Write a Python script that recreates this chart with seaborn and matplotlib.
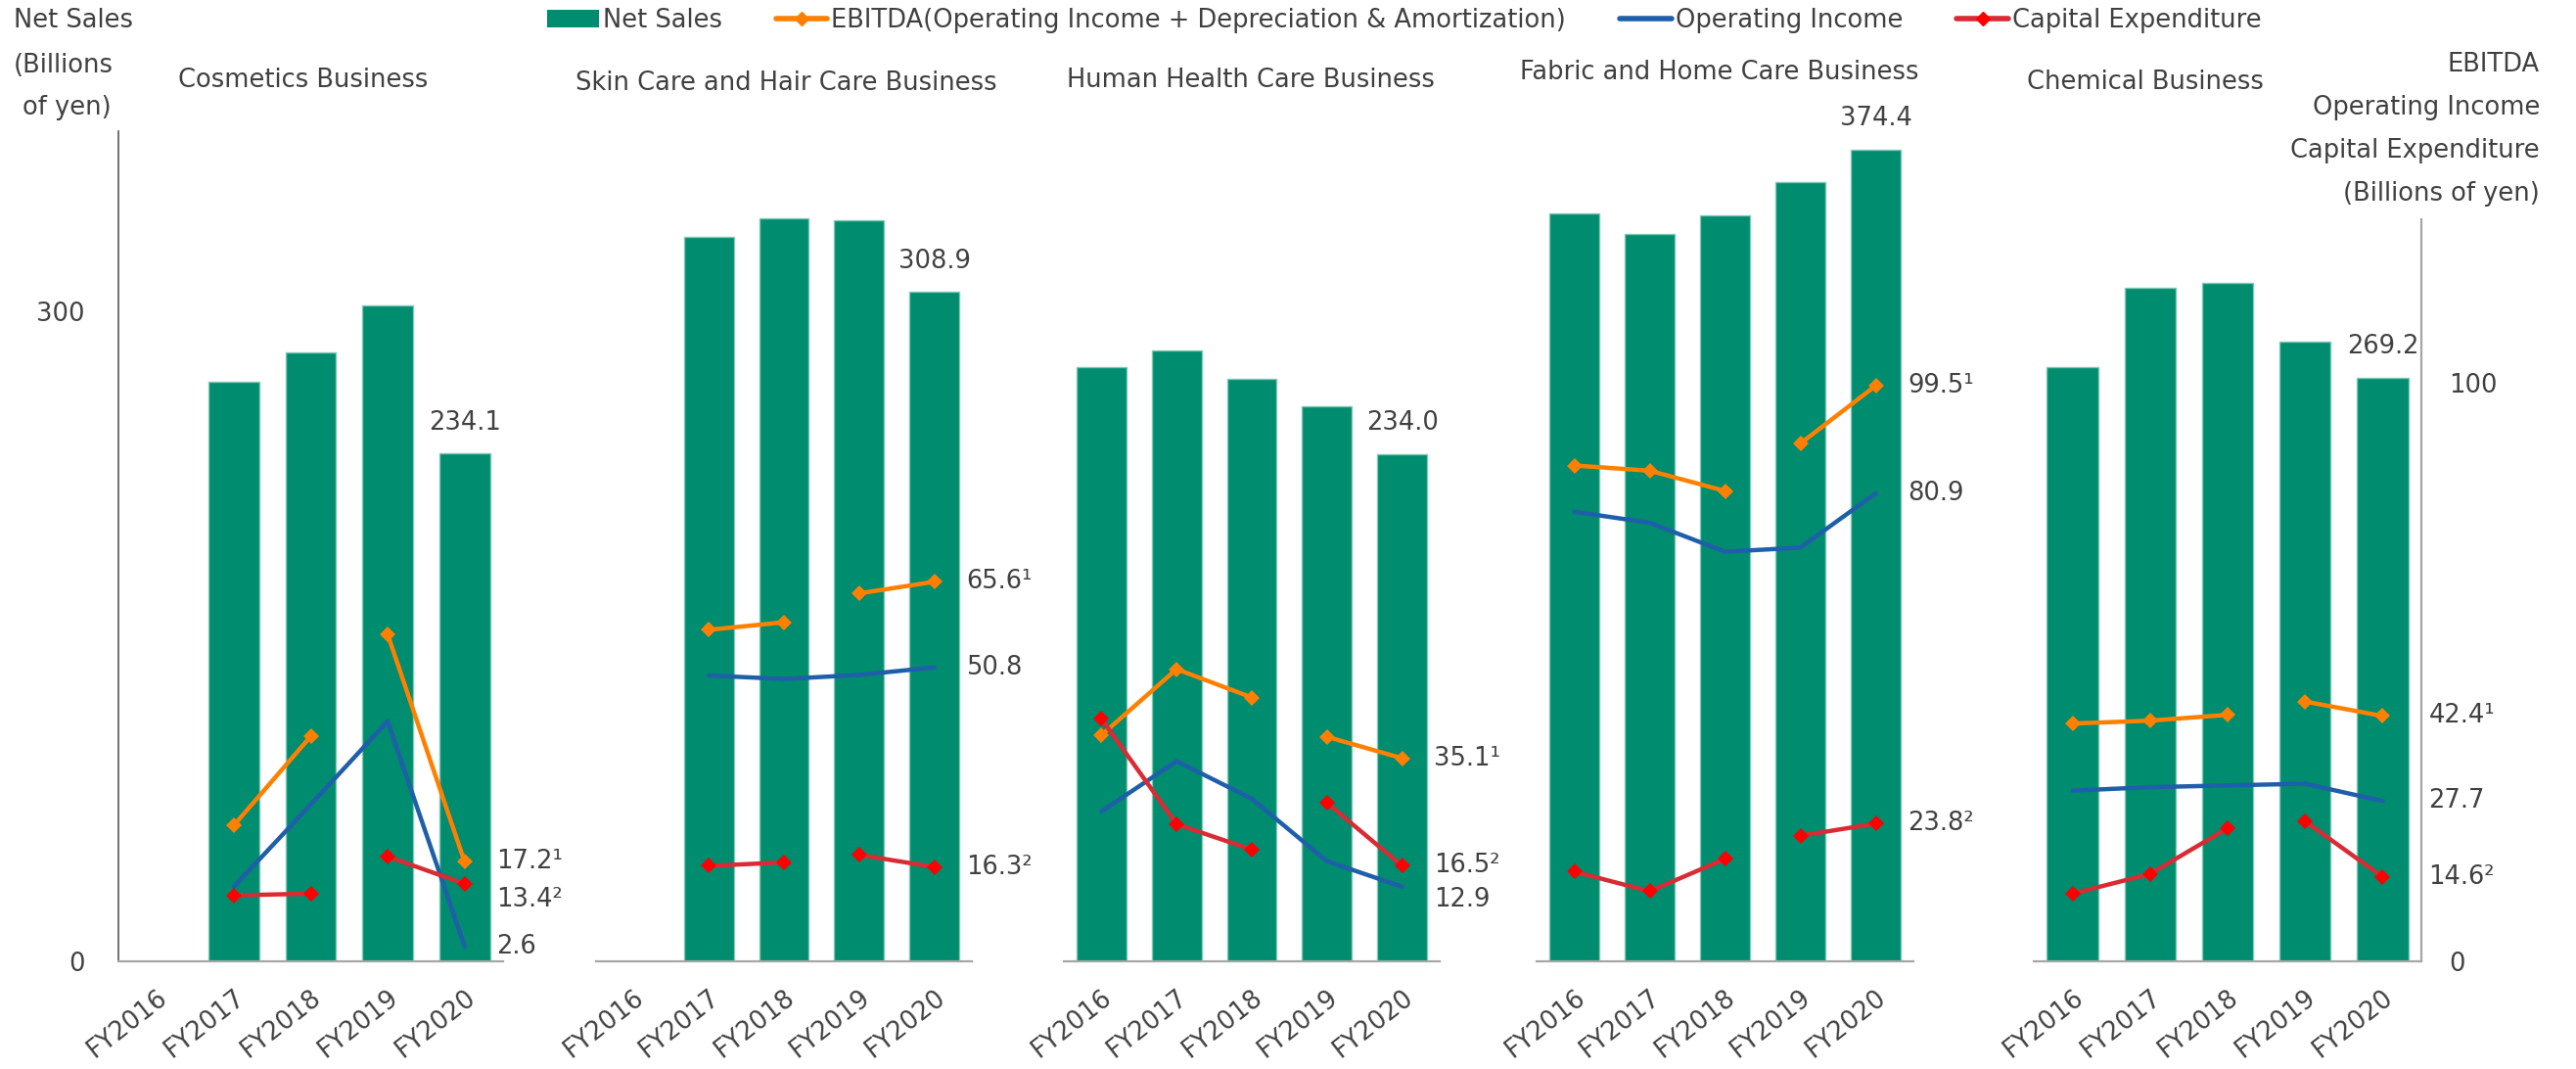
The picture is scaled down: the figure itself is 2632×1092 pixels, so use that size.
import numpy as np
import pandas as pd
import seaborn as sns
import matplotlib.pyplot as plt
from matplotlib.patches import Patch
from matplotlib.lines import Line2D

nan = np.nan
years = ["FY2016", "FY2017", "FY2018", "FY2019", "FY2020"]
segment_names = ["Cosmetics Business", "Skin Care and Hair Care Business",
                 "Human Health Care Business", "Fabric and Home Care Business",
                 "Chemical Business"]

# net sales, billions of yen (left axis)
cosmetics_sales = [nan, 267.3, 280.7, 302.6, 234.1]
skincare_sales = [nan, 333.9, 342.5, 341.8, 308.9]
health_sales = [273.9, 281.9, 268.4, 255.9, 234.0]
fabric_sales = [344.8, 335.4, 343.9, 359.4, 374.4]
chemical_sales = [273.9, 310.5, 312.9, 285.8, 269.2]

# EBITDA (right axis)
cosmetics_ebitda = [nan, 23.5, 38.9, 56.5, 17.2]
skincare_ebitda = [nan, 57.3, 58.6, 63.6, 65.6]
health_ebitda = [39.1, 50.5, 45.6, 38.8, 35.1]
fabric_ebitda = [85.7, 84.8, 81.3, 89.5, 99.5]
chemical_ebitda = [41.1, 41.6, 42.6, 44.9, 42.4]

# operating income (right axis)
cosmetics_op = [nan, 12.9, 27.1, 41.5, 2.6]
skincare_op = [nan, 49.4, 48.8, 49.5, 50.8]
health_op = [25.9, 34.6, 28.1, 17.3, 12.9]
fabric_op = [77.7, 75.8, 70.8, 71.5, 80.9]
chemical_op = [29.5, 30.1, 30.4, 30.7, 27.7]

# capital expenditure (right axis)
cosmetics_capex = [nan, 11.4, 11.7, 18.1, 13.4]
skincare_capex = [nan, 16.5, 17.1, 18.4, 16.3]
health_capex = [41.9, 23.7, 19.3, 27.4, 16.5]
fabric_capex = [15.5, 12.1, 17.7, 21.7, 23.8]
chemical_capex = [11.7, 15.1, 23.0, 24.2, 14.6]

sales = [cosmetics_sales, skincare_sales, health_sales, fabric_sales, chemical_sales]
ebitda = [cosmetics_ebitda, skincare_ebitda, health_ebitda, fabric_ebitda, chemical_ebitda]
op_income = [cosmetics_op, skincare_op, health_op, fabric_op, chemical_op]
capex = [cosmetics_capex, skincare_capex, health_capex, fabric_capex, chemical_capex]

GREEN = "#008C6E"
ORANGE = "#FF8000"
BLUE = "#1F5FAA"
RED = "#D92B33"
RED_MK = "#FF0000"
TXT = "#404040"
GRID = "#A6A6A6"
FS = 18.5

sns.set_theme(style="white")
plt.rcParams["font.family"] = ["DejaVu Sans"]
plt.rcParams["text.color"] = TXT
plt.rcParams["xtick.color"] = TXT
plt.rcParams["ytick.color"] = TXT

W, H = 2632, 1092
fig = plt.figure(figsize=(W / 100, H / 100), dpi=100)

# panel placement in pixels
panel_px = [(121, 514), (609, 993), (1087, 1471), (1570, 1955), (2078, 2474)]
title_px = [(310, 82), (803, 85), (1278, 82), (1757, 74), (2192, 84)]
top_px, bot_px = 134, 982
sales_top = (bot_px - top_px) / 2.215
line_top = (bot_px - top_px) / 5.91

# per-label nudges (points) for the FY2020 line labels
nudge = {(0, "capex"): -11.5, (2, "op"): -9.5}


def draw_line(ax2, vals, idx, color, mk_color, marker):
    xs = [i for i in idx if not np.isnan(vals[i])]
    ys = [vals[i] for i in xs]
    if len(xs) < 2:
        return
    kw = dict(x=xs, y=ys, ax=ax2, color=color, linewidth=3.2, legend=False, sort=False)
    if marker:
        kw.update(marker="D", markersize=8, markerfacecolor=mk_color,
                  markeredgecolor=mk_color, markeredgewidth=0)
    sns.lineplot(**kw)


for i in range(5):
    x0, x1 = panel_px[i]
    ax = fig.add_axes([x0 / W, 1 - bot_px / H, (x1 - x0) / W, (bot_px - top_px) / H])
    df = pd.DataFrame({"year": years, "sales": sales[i]}).dropna()
    sns.barplot(data=df, x="year", y="sales", order=years, color=GREEN, saturation=1,
                width=0.66, edgecolor="#7FC9B5", linewidth=1, ax=ax)
    ax.set_xlim(-0.5, 4.5)
    ax.set_ylim(0, sales_top)
    ax.set_xlabel("")
    ax.set_ylabel("")
    for s in ["top", "right"]:
        ax.spines[s].set_visible(False)
    ax.spines["bottom"].set_color(GRID)
    ax.spines["bottom"].set_linewidth(1.6)
    if i == 0:
        ax.spines["left"].set_color("#595959")
        ax.spines["left"].set_linewidth(1.2)
        ax.set_yticks([0, 300])
        ax.tick_params(axis="y", length=0, pad=25, labelsize=FS)
    else:
        ax.spines["left"].set_visible(False)
        ax.set_yticks([])
    ax.set_xticks(range(5))
    ax.set_xticklabels(years, rotation=38, ha="right", va="top", rotation_mode="anchor", fontsize=FS)
    ax.tick_params(axis="x", length=0, pad=17)

    # FY2020 net sales label
    ax.annotate(f"{sales[i][4]:.1f}", xy=(4, sales[i][4]), xytext=(0, 22.5),
                textcoords="offset points", ha="center", va="center", fontsize=FS, color=TXT)

    ax2 = ax.twinx()
    ax2.set_ylim(0, line_top)
    for s in ["top", "left", "bottom", "right"]:
        ax2.spines[s].set_visible(False)
    draw_line(ax2, op_income[i], range(5), BLUE, BLUE, False)
    draw_line(ax2, ebitda[i], range(0, 3), ORANGE, ORANGE, True)
    draw_line(ax2, ebitda[i], range(3, 5), ORANGE, ORANGE, True)
    draw_line(ax2, capex[i], range(0, 3), RED, RED_MK, True)
    draw_line(ax2, capex[i], range(3, 5), RED, RED_MK, True)
    ax2.set_ylabel("")
    if i == 4:
        ax2.spines["right"].set_visible(True)
        ax2.spines["right"].set_color(GRID)
        ax2.spines["right"].set_linewidth(1.6)
        ax2.spines["right"].set_bounds(0, (bot_px - 224) / 5.91)
        ax2.set_yticks([0, 100])
        ax2.tick_params(axis="y", length=0, pad=20, labelsize=FS)
    else:
        ax2.set_yticks([])

    dx = 34 if i == 4 else 23.5
    for key, vals, sup in [("ebitda", ebitda[i], "\u00b9"), ("op", op_income[i], ""),
                           ("capex", capex[i], "\u00b2")]:
        ax2.annotate(f"{vals[4]:.1f}{sup}", xy=(4, vals[4]),
                     xytext=(dx, nudge.get((i, key), 0)), textcoords="offset points",
                     ha="left", va="center", fontsize=FS, color=TXT)

    tx, ty = title_px[i]
    fig.text(tx / W, 1 - ty / H, segment_names[i], ha="center", va="center", fontsize=FS, color=TXT)

# axis captions
fig.text(14 / W, 1 - 21 / H, "Net Sales", ha="left", va="center", fontsize=FS, color=TXT)
fig.text(14 / W, 1 - 67 / H, "(Billions", ha="left", va="center", fontsize=FS, color=TXT)
fig.text(23 / W, 1 - 110 / H, "of yen)", ha="left", va="center", fontsize=FS, color=TXT)
for txt, y in [("EBITDA", 66), ("Operating Income", 110), ("Capital Expenditure", 154),
               ("(Billions of yen)", 198)]:
    fig.text(2595 / W, 1 - y / H, txt, ha="right", va="center", fontsize=FS, color=TXT)

handles = [
    Patch(facecolor=GREEN, edgecolor="none"),
    Line2D([], [], color=ORANGE, lw=4, marker="D", ms=7, mfc=ORANGE, mec=ORANGE),
    Line2D([], [], color=BLUE, lw=4),
    Line2D([], [], color=RED, lw=4, marker="D", ms=7, mfc=RED_MK, mec=RED_MK),
]
labels = ["Net Sales", "EBITDA(Operating Income + Depreciation & Amortization)",
          "Operating Income", "Capital Expenditure"]
fig.legend(handles, labels, loc="center left", bbox_to_anchor=(559 / W, 1 - 21 / H), ncol=4,
           frameon=False, fontsize=FS, labelcolor=TXT, handlelength=2.05, handletextpad=0.15,
           columnspacing=2.15, borderaxespad=0, borderpad=0)

fig.savefig("out.png", dpi=100)
